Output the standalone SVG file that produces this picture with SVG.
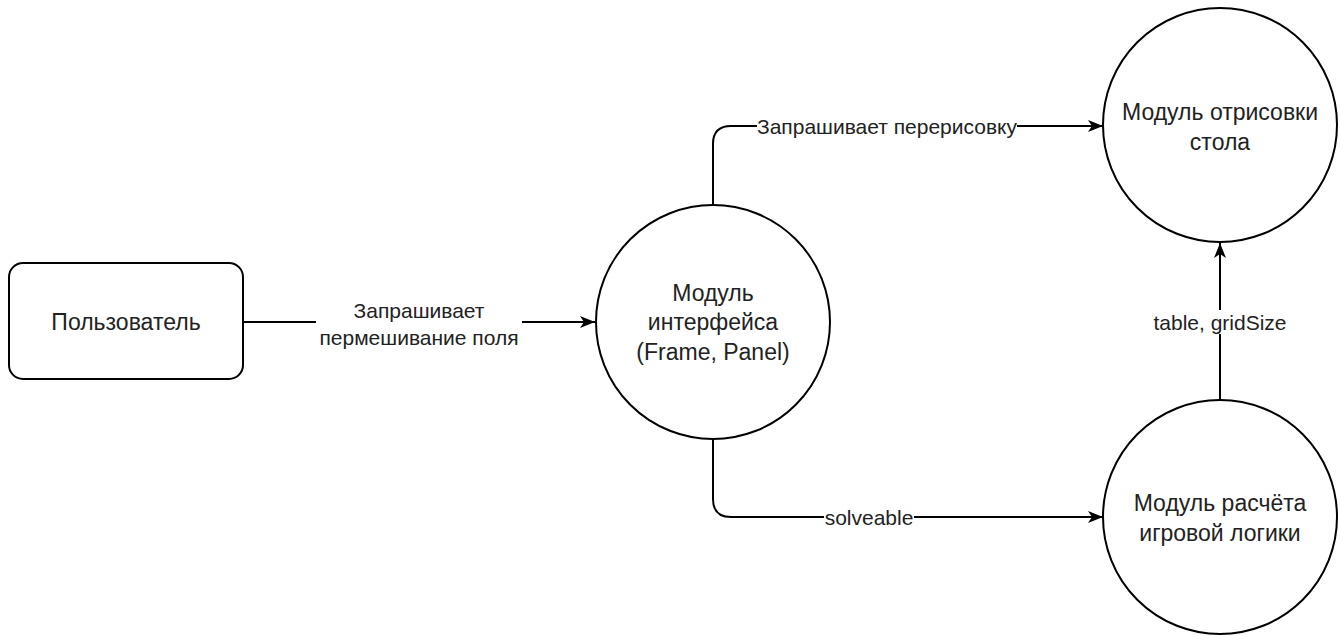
<svg xmlns="http://www.w3.org/2000/svg" width="1340" height="635" viewBox="0 0 1340 635">
  <style>
    .shape { fill: #ffffff; stroke: #000000; stroke-width: 2; }
    .edge { fill: none; stroke: #000000; stroke-width: 2; }
    .node-text { font-family: "Liberation Sans", Arial, sans-serif; font-size: 23px; fill: #222222; text-anchor: middle; dominant-baseline: central; }
    .edge-text { font-family: "Liberation Sans", Arial, sans-serif; font-size: 21px; fill: #222222; text-anchor: middle; dominant-baseline: central; }
    .label-bg { fill: #ffffff; }
  </style>
  <defs>
    <marker id="arrow" viewBox="0 0 15 12" refX="15" refY="6" markerWidth="15" markerHeight="12" markerUnits="userSpaceOnUse" orient="auto">
      <path d="M0,0 L15,6 L0,12 L4,6 Z" fill="#000000"/>
    </marker>
  </defs>
  <rect width="1340" height="635" fill="#ffffff"/>

  <!-- connectors -->
  <g id="connectors">
    <path class="edge" d="M243,322 H595" marker-end="url(#arrow)"/>
    <path class="edge" d="M713,205 V144 Q713,126 731,126 H1103" marker-end="url(#arrow)"/>
    <path class="edge" d="M713,439 V499 Q713,517 731,517 H1103" marker-end="url(#arrow)"/>
    <path class="edge" d="M1220,400 V243" marker-end="url(#arrow)"/>

    <rect class="label-bg" x="316" y="296" width="206" height="54"/>
    <text class="edge-text" x="419" y="310">Запрашивает</text>
    <text class="edge-text" x="419" y="337">пермешивание поля</text>

    <rect class="label-bg" x="757" y="114" width="260" height="24"/>
    <text class="edge-text" x="887" y="126">Запрашивает перерисовку</text>

    <rect class="label-bg" x="824" y="505" width="90" height="24"/>
    <text class="edge-text" x="869" y="517">solveable</text>

    <rect class="label-bg" x="1146" y="310" width="148" height="24"/>
    <text class="edge-text" x="1220" y="322">table, gridSize</text>
  </g>

  <!-- nodes -->
  <g id="user">
    <rect class="shape" x="9" y="263" width="234" height="116" rx="14" ry="14"/>
    <text class="node-text" x="126" y="322">Пользователь</text>
  </g>

  <g id="interface-module">
    <circle class="shape" cx="713" cy="322" r="117"/>
    <text class="node-text" x="713" y="293">Модуль</text>
    <text class="node-text" x="713" y="322">интерфейса</text>
    <text class="node-text" x="713" y="352">(Frame, Panel)</text>
  </g>

  <g id="render-module">
    <circle class="shape" cx="1220" cy="125" r="117"/>
    <text class="node-text" x="1220" y="112">Модуль отрисовки</text>
    <text class="node-text" x="1220" y="142">стола</text>
  </g>

  <g id="logic-module">
    <circle class="shape" cx="1220" cy="517" r="117"/>
    <text class="node-text" x="1220" y="503">Модуль расчёта</text>
    <text class="node-text" x="1220" y="533">игровой логики</text>
  </g>
</svg>
